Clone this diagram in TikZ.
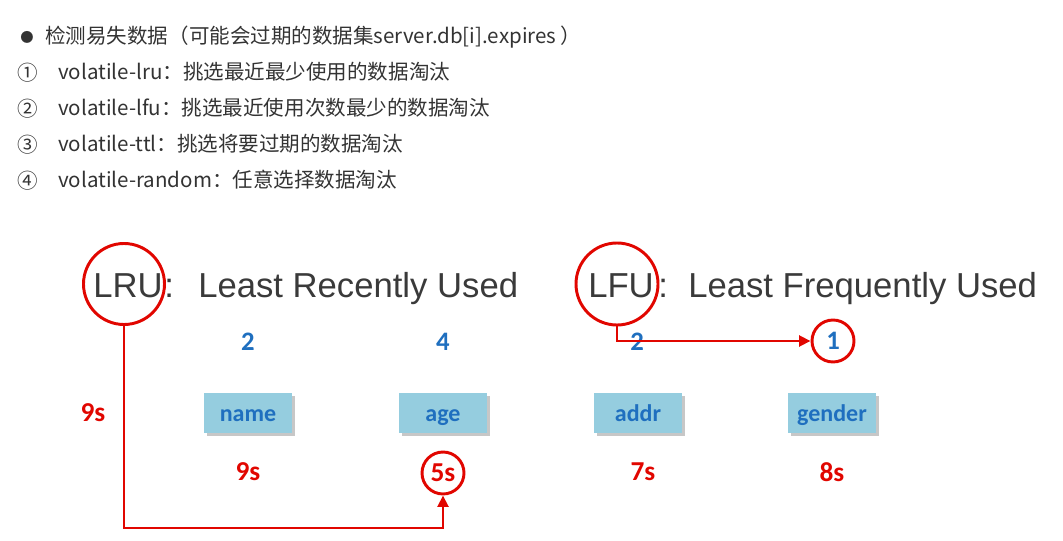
\documentclass[tikz,border=0pt]{standalone}
\usepackage{fontspec}
\setmainfont{Noto Sans CJK SC}
\newfontfamily\titlefont{Liberation Sans}
\newfontfamily\labelfont{Carlito}
\usetikzlibrary{arrows.meta,shadows}
\definecolor{textgray}{HTML}{333333}
\definecolor{titlegray}{HTML}{3A3A3A}
\definecolor{markred}{HTML}{E10600}
\definecolor{keyblue}{HTML}{1F6FBF}
\definecolor{keyfill}{HTML}{95CDDF}
\begin{document}
\begin{tikzpicture}[
    x=0.75pt, y=-0.75pt,
    listline/.style={anchor=base west, inner sep=0pt, text=textgray, font=\fontsize{15.4}{18}\selectfont},
    listnum/.style={inner sep=0pt, text=textgray, font=\fontsize{15.4}{18}\selectfont},
    heading/.style={anchor=base west, inner sep=0pt, text=titlegray, font=\titlefont\fontsize{26}{30}\selectfont},
    field/.style={fill=keyfill, minimum width=66pt, minimum height=30pt, text height=15pt, text depth=2pt,
        text=keyblue, font=\labelfont\bfseries\fontsize{18}{20}\selectfont,
        drop shadow={shadow xshift=2.5pt, shadow yshift=-2.5pt, fill=black, opacity=0.22}},
    hits/.style={text=keyblue, font=\labelfont\bfseries\fontsize{20}{22}\selectfont},
    ttl/.style={text=markred, font=\labelfont\bfseries\fontsize{20.5}{22}\selectfont},
    ring/.style={circle, draw=markred, line width=2.2pt, inner sep=0pt},
    arr/.style={draw=markred, line width=2.2pt, -{Triangle[length=8.5pt,width=8pt]}},
]
\useasboundingbox (0,0) rectangle (1063,541);
% Volatile key policies (header list)
\node[listnum, font=\fontsize{10}{12}\selectfont] (dot) at (27,37) {●};
\node[listline] (head) at (45,44) {检测易失数据（可能会过期的数据集server.db[i].expires ）};
\node[listnum] (n1) at (28,73) {①};
\node[listline] (lrurule) at (58,80) {volatile-lru：挑选最近最少使用的数据淘汰};
\node[listnum] (n2) at (28,109) {②};
\node[listline] (lfurule) at (58,116) {volatile-lfu：挑选最近使用次数最少的数据淘汰};
\node[listnum] (n3) at (28,145) {③};
\node[listline] (ttlrule) at (58,152) {volatile-ttl：挑选将要过期的数据淘汰};
\node[listnum] (n4) at (28,181) {④};
\node[listline] (randrule) at (58,188) {volatile-random：任意选择数据淘汰};
% Titles
\node[heading] (lru) at (93,298) {LRU};
\node[heading] (lrucolon) at (164,298) {:};
\node[heading] (lrudesc) at (198,298) {Least Recently Used};
\node[heading] (lfu) at (588,298) {LFU};
\node[heading] (lfucolon) at (658,298) {:};
\node[heading] (lfudesc) at (688,298) {Least Frequently Used};
\node[ring, minimum size=60.75pt] (lruring) at (124,284) {};
\node[ring, minimum size=61.5pt] (lfuring) at (617,284) {};
% Access counts
\node[hits] (namehits) at (248,342) {2};
\node[hits] (agehits) at (443,342) {4};
\node[hits] (addrhits) at (637,342) {2};
\node[hits, ring, minimum size=31.5pt] (one) at (833,341) {1};
% Keys
\node[field] (name) at (248,413) {name};
\node[field] (age) at (443,413) {age};
\node[field] (addr) at (638,413) {addr};
\node[field] (gender) at (832,413) {gender};
% Idle times
\node[ttl] (lruttl) at (93,413) {9s};
\node[ttl] (namettl) at (248,472) {9s};
\node[ttl, ring, minimum size=31.5pt] (fives) at (443,473) {5s};
\node[ttl] (addrttl) at (643,472) {7s};
\node[ttl] (genderttl) at (832,472) {8s};
% Evicted picks
\coordinate (lrubend) at (124,528);
\draw[arr] (lruring.south) -- (lrubend) -| (fives.south);
\draw[arr] (lfuring.south) |- (one.west);
\end{tikzpicture}
\end{document}
